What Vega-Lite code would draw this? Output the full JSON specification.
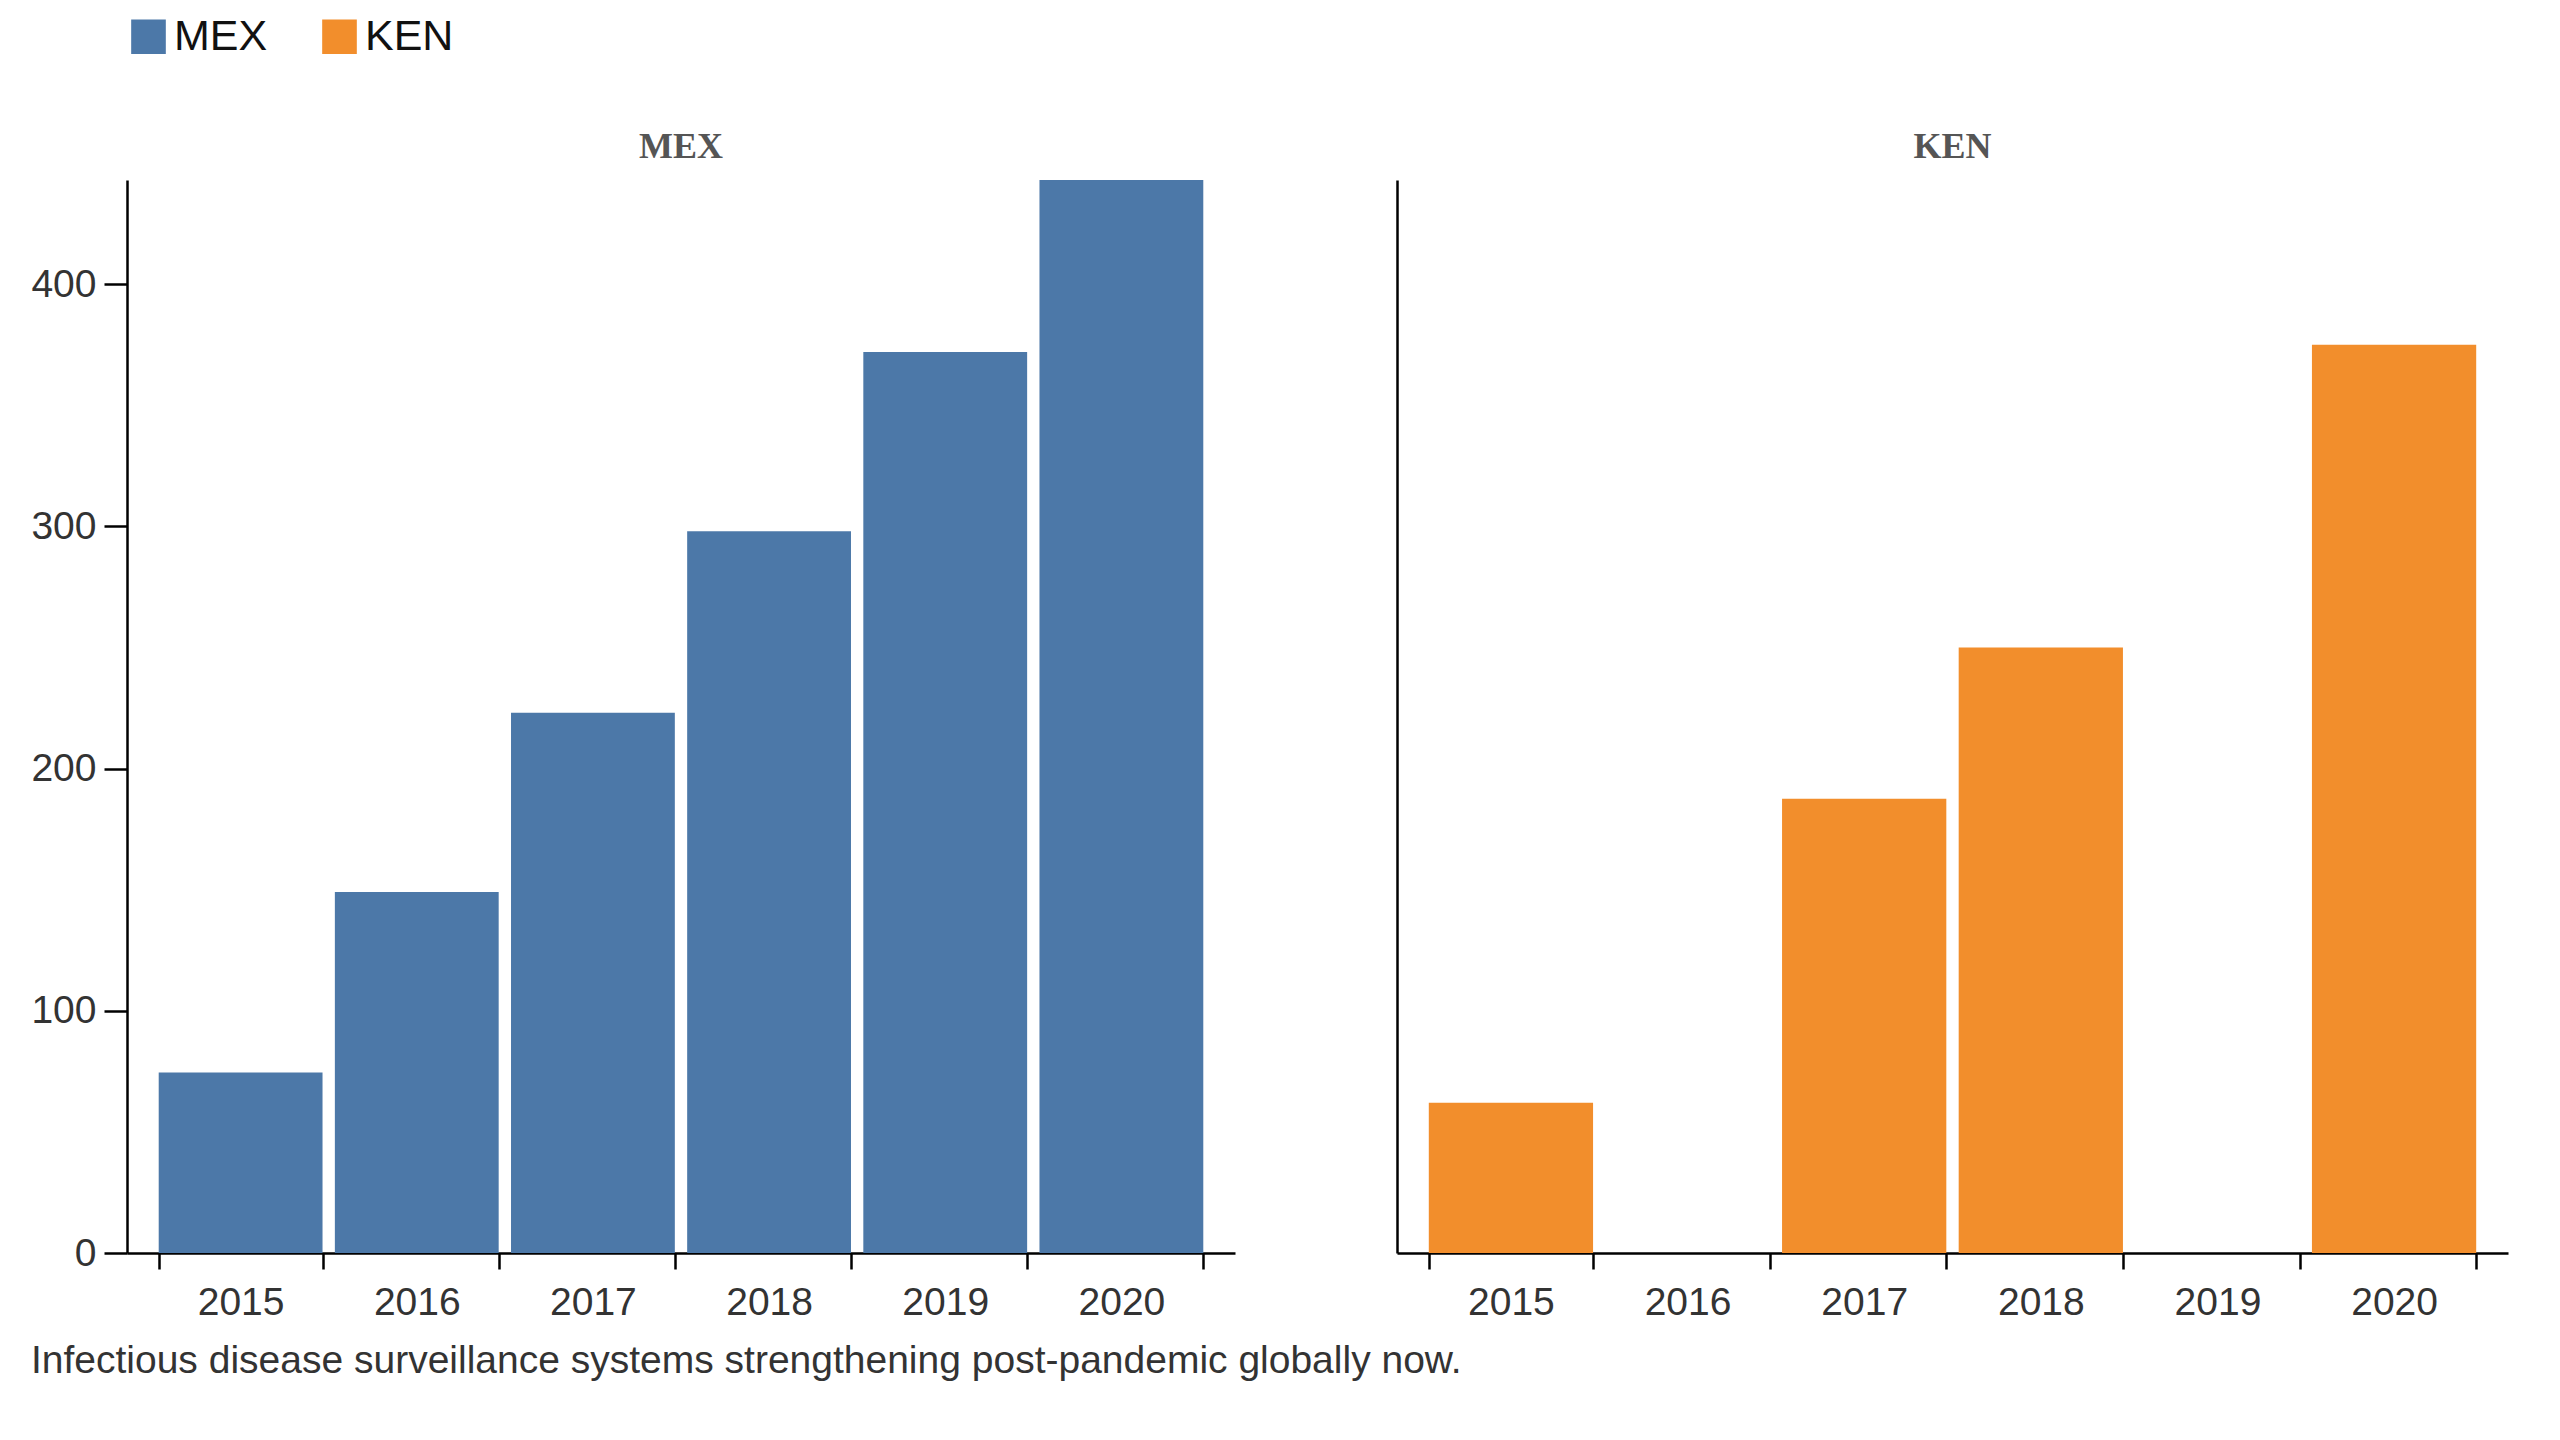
{
"$schema":"https://vega.github.io/schema/vega-lite/v6.json",
"padding":{"left":30,"top":15,"right":20,"bottom":10},
"background":"white",
"data":{"values":[
{"country":"MEX","year":"2015","value":74.5},
{"country":"MEX","year":"2016","value":149},
{"country":"MEX","year":"2017","value":223},
{"country":"MEX","year":"2018","value":298},
{"country":"MEX","year":"2019","value":372},
{"country":"MEX","year":"2020","value":443},
{"country":"KEN","year":"2015","value":62},
{"country":"KEN","year":"2017","value":187.5},
{"country":"KEN","year":"2018","value":250},
{"country":"KEN","year":"2020","value":375}
]},
"title":{"text":"Infectious disease surveillance systems strengthening post-pandemic globally now.","orient":"bottom","anchor":"start","fontSize":39,"font":"Liberation Sans","fontWeight":"normal","color":"#333","offset":20},
"spacing":162,
"hconcat":[
{"width":1108,"height":1073,
"title":{"text":"MEX","font":"Liberation Serif","fontSize":36,"fontWeight":"bold","color":"#555","offset":14},
"transform":[{"filter":"datum.country==='MEX'"}],
"mark":{"type":"bar"},
"encoding":{
"x":{"field":"year","type":"ordinal","scale":{"domain":["2015","2016","2017","2018","2019","2020"],"paddingInner":0.07,"paddingOuter":0.18},"axis":{"title":null,"labelAngle":0,"tickBand":"extent"}},
"y":{"field":"value","type":"quantitative","scale":{"domain":[0,443],"nice":false},"axis":{"title":null,"values":[0,100,200,300,400],"tickSize":23,"labelPadding":8}},
"color":{"field":"country","type":"nominal","scale":{"domain":["MEX","KEN"],"range":["#4c78a8","#f28e2c"]},"legend":{"title":null}}
}},
{"width":1111,"height":1073,
"title":{"text":"KEN","font":"Liberation Serif","fontSize":36,"fontWeight":"bold","color":"#555","offset":14},
"transform":[{"filter":"datum.country==='KEN'"}],
"mark":{"type":"bar"},
"encoding":{
"x":{"field":"year","type":"ordinal","scale":{"domain":["2015","2016","2017","2018","2019","2020"],"paddingInner":0.07,"paddingOuter":0.18},"axis":{"title":null,"labelAngle":0,"tickBand":"extent"}},
"y":{"field":"value","type":"quantitative","scale":{"domain":[0,443],"nice":false},"axis":{"title":null,"ticks":false,"labels":false}},
"color":{"field":"country","type":"nominal","scale":{"domain":["MEX","KEN"],"range":["#4c78a8","#f28e2c"]},"legend":{"title":null}}
}}
],
"config":{
"view":{"stroke":null},
"axis":{"domainColor":"#000","tickColor":"#000","domainWidth":2.5,"tickWidth":2.5,"grid":false,"labelFontSize":39,"labelFont":"Liberation Sans","labelColor":"#333"},
"axisX":{"tickSize":16,"labelPadding":14},
"legend":{"orient":"top","direction":"horizontal","symbolType":"square","symbolSize":1200,"labelFontSize":43,"labelFont":"Liberation Sans","labelColor":"#111","columnPadding":50,"symbolOffset":0,"offset":70}
}
}
